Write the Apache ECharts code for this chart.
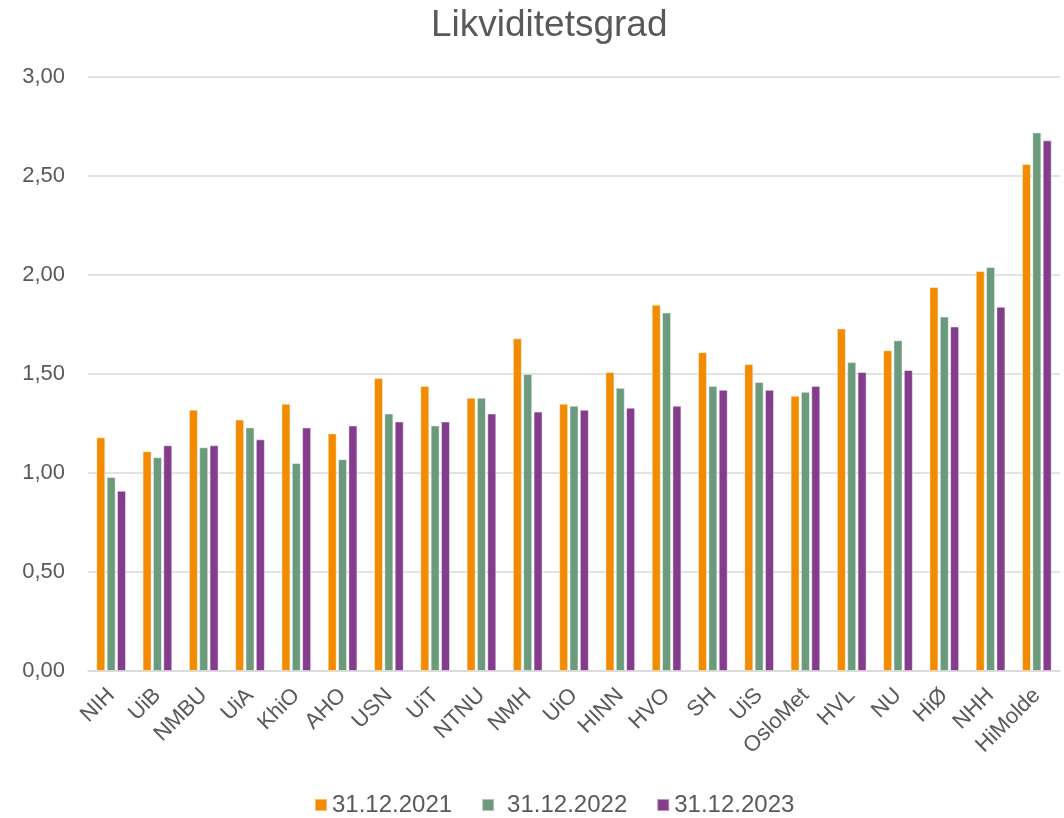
<!DOCTYPE html>
<html>
<head>
<meta charset="utf-8">
<title>Likviditetsgrad</title>
<script src="https://cdn.jsdelivr.net/npm/echarts@6/dist/echarts.min.js"></script>
<style>
  html, body { margin: 0; padding: 0; background: #fff; }
  #chart { width: 1064px; height: 818px; }
</style>
</head>
<body>
<div id="chart"></div>
<script>
// institusjoner
const categories = ['NIH', 'UiB', 'NMBU', 'UiA', 'KhiO', 'AHO', 'USN', 'UiT', 'NTNU', 'NMH', 'UiO',
  'HINN', 'HVO', 'SH', 'UiS', 'OsloMet', 'HVL', 'NU', 'HiØ', 'NHH', 'HiMolde']

const seriesNames = ['31.12.2021', '31.12.2022', '31.12.2023']

const values2021 = [1.18, 1.11, 1.32, 1.27, 1.35, 1.20, 1.48, 1.44, 1.38, 1.68, 1.35,
  1.51, 1.85, 1.61, 1.55, 1.39, 1.73, 1.62, 1.94, 2.02, 2.56]
const values2022 = [0.98, 1.08, 1.13, 1.23, 1.05, 1.07, 1.30, 1.24, 1.38, 1.50, 1.34,
  1.43, 1.81, 1.44, 1.46, 1.41, 1.56, 1.67, 1.79, 2.04, 2.72]
const values2023 = [0.91, 1.14, 1.14, 1.17, 1.23, 1.24, 1.26, 1.26, 1.30, 1.31, 1.32,
  1.33, 1.34, 1.42, 1.42, 1.44, 1.51, 1.52, 1.74, 1.84, 2.68]

const colors = ['#F28B00', '#6B9A7C', '#843C8C']
const textColor = '#595959'
const fontFamily = '"Liberation Sans", Arial, sans-serif'

const chart = echarts.init(document.getElementById('chart'))

const makeSeries = (name, data, color) => ({
  name: name,
  type: 'bar',
  data: data,
  barWidth: 9,
  barGap: '15%',
  itemStyle: {
    color: color,
    borderColor: 'rgba(255,255,255,0.45)',
    borderWidth: 1
  }
})

chart.setOption({
  animation: false,
  color: colors,
  textStyle: { fontFamily: fontFamily },
  title: {
    text: 'Likviditetsgrad',
    left: 426,
    top: 2,
    textStyle: {
      fontSize: 37,
      fontWeight: 'normal',
      color: textColor,
      fontFamily: fontFamily
    }
  },
  legend: {
    top: 788,
    left: 309,
    itemWidth: 12,
    itemHeight: 12,
    itemGap: 29,
    icon: 'rect',
    textStyle: { fontSize: 24, color: textColor, fontFamily: fontFamily },
    data: [
      { name: seriesNames[0] },
      { name: seriesNames[1], textStyle: { padding: [0, 0, 0, 8] } },
      { name: seriesNames[2] }
    ]
  },
  grid: {
    left: 88,
    right: 4,
    top: 77,
    bottom: 147
  },
  xAxis: {
    type: 'category',
    data: categories,
    axisTick: { show: false },
    axisLine: { lineStyle: { color: '#d9d9d9', width: 1.5 } },
    axisLabel: {
      rotate: 45,
      interval: 0,
      margin: 21,
      fontSize: 22,
      color: textColor,
      fontFamily: fontFamily
    }
  },
  yAxis: {
    type: 'value',
    min: 0,
    max: 3,
    interval: 0.5,
    axisLine: { show: false },
    axisTick: { show: false },
    splitLine: { lineStyle: { color: '#d9d9d9', width: 1.5 } },
    axisLabel: {
      fontSize: 22,
      margin: 23,
      color: textColor,
      fontFamily: fontFamily,
      formatter: (v) => v.toFixed(2).replace('.', ',')
    }
  },
  series: [
    makeSeries(seriesNames[0], values2021, colors[0]),
    makeSeries(seriesNames[1], values2022, colors[1]),
    makeSeries(seriesNames[2], values2023, colors[2])
  ]
})
</script>
</body>
</html>
